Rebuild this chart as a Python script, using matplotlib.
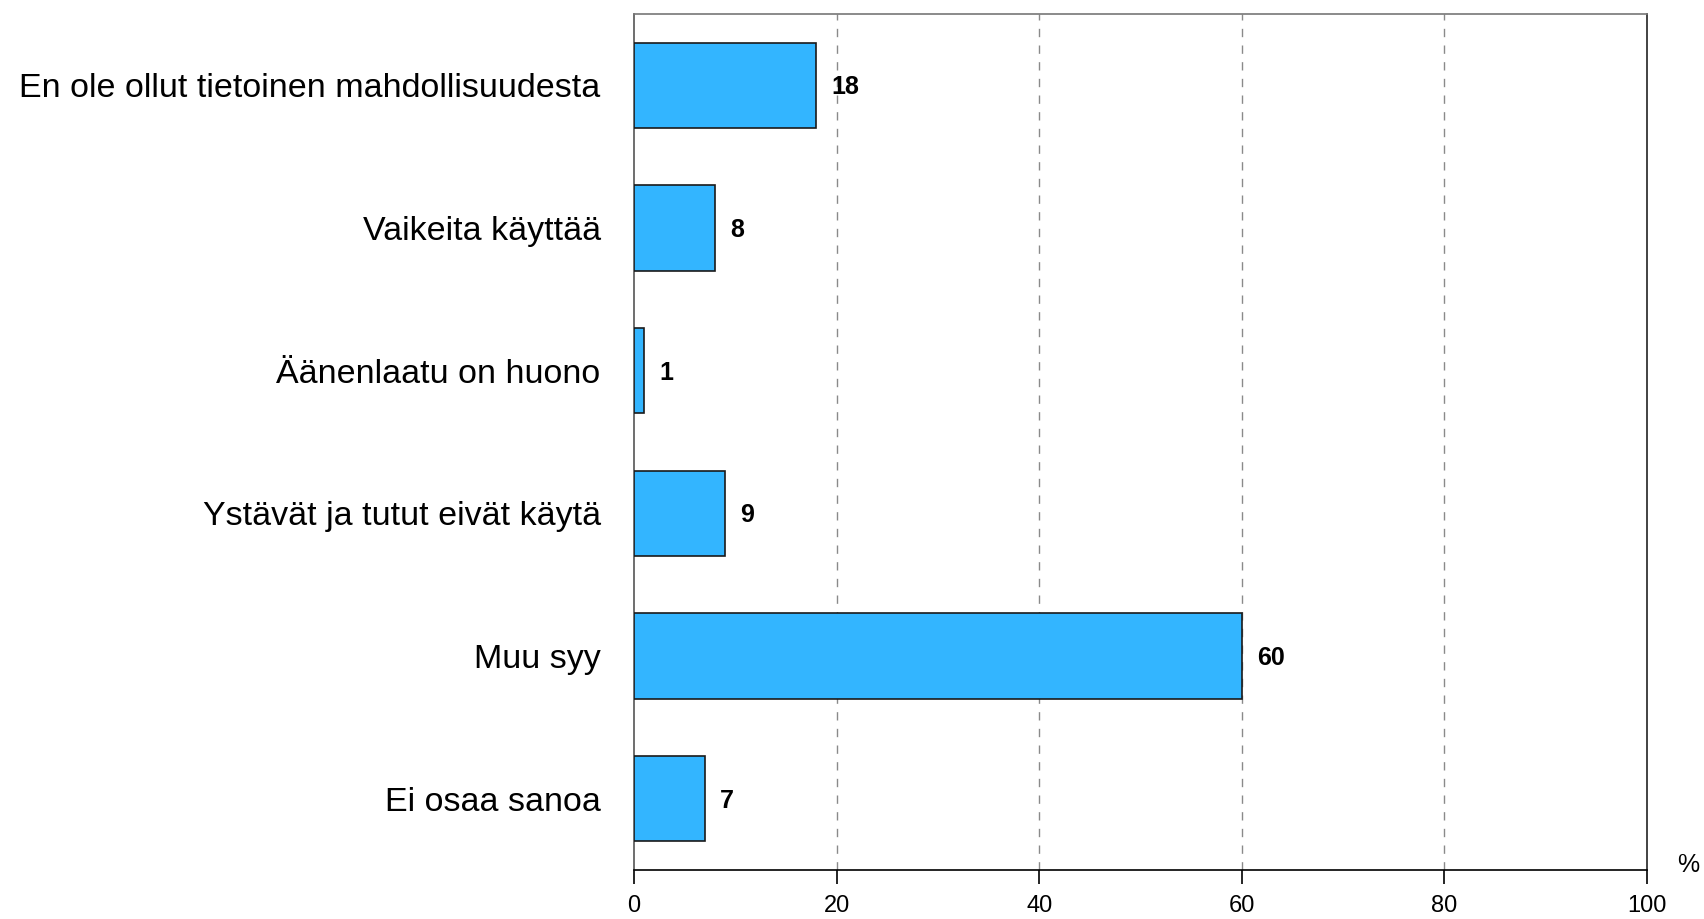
import matplotlib
matplotlib.use('Agg')
import matplotlib.pyplot as plt

plt.rcParams['font.family'] = ['Liberation Sans', 'DejaVu Sans']

categories = ['En ole ollut tietoinen mahdollisuudesta', 'Vaikeita käyttää', 'Äänenlaatu on huono',
              'Ystävät ja tutut eivät käytä', 'Muu syy', 'Ei osaa sanoa']
values = [18, 8, 1, 9, 60, 7]
x_ticks = [0, 20, 40, 60, 80, 100]

fig = plt.figure(figsize=(17.04, 9.19), dpi=100)
ax = fig.add_axes([634 / 1704, 1 - 870 / 919, (1647 - 634) / 1704, (870 - 14) / 919])

y_index = range(len(categories))
ax.barh(y_index, values, height=0.6, color='#33b5ff', edgecolor='#1a1a1a', linewidth=1.2, zorder=3)
for i, v in zip(y_index, values):
    ax.annotate(str(v), (v, i), xytext=(11, -1.5), textcoords='offset points', va='center', ha='left',
                fontsize=18, fontweight='bold')

ax.set_xlim(0, 100)
ax.set_ylim(len(categories) - 0.5, -0.5)
ax.set_xticks(x_ticks)
ax.set_xticklabels([str(t) for t in x_ticks], fontsize=17)
ax.set_yticks(list(y_index))
ax.set_yticklabels(categories, fontsize=24.5)
ax.tick_params(axis='y', length=0, pad=24)
ax.tick_params(axis='x', length=10, width=1.2, pad=8, direction='out')
for t in x_ticks[1:-1]:
    ax.axvline(t, color='#8a8a8a', linestyle=(0, (6, 6)), linewidth=1, zorder=1)

ax.spines['top'].set_color('#777777')
ax.spines['left'].set_color('#555555')
ax.spines['right'].set_color('#222222')
ax.spines['bottom'].set_color('black')
for s in ax.spines.values():
    s.set_linewidth(1.2)

fig.text(1688 / 1704, 1 - 865 / 919, '%', fontsize=18, ha='center', va='center')

fig.savefig('out.png', dpi=100)
